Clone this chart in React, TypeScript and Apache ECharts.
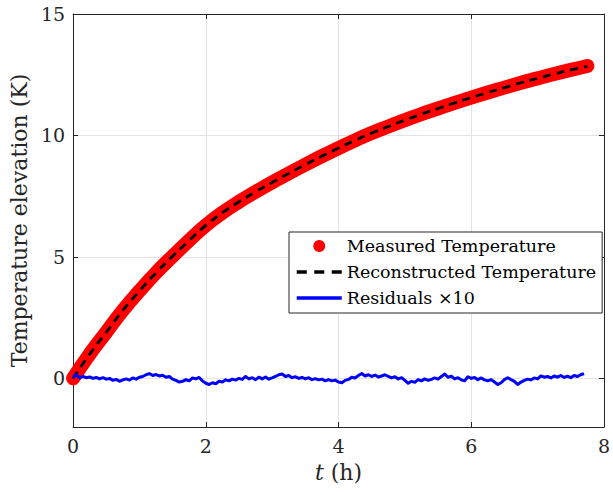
import React, { useEffect, useRef } from "react";
import * as echarts from "echarts";

const measuredTimeStep = 0.25;
const measuredValues = [
  0, 1.0, 1.9, 2.8, 3.6, 4.35, 5.03, 5.68, 6.3, 6.82, 7.27, 7.68, 8.07, 8.44, 8.8, 9.15,
  9.48, 9.8, 10.1, 10.37, 10.63, 10.88, 11.11, 11.34, 11.56, 11.77, 11.97, 12.17, 12.35, 12.53, 12.7, 12.86,
];
const reconstructedValues = [
  0, 1.0, 1.9, 2.8, 3.6, 4.35, 5.03, 5.68, 6.3, 6.82, 7.27, 7.68, 8.07, 8.44, 8.8, 9.15,
  9.48, 9.8, 10.1, 10.37, 10.63, 10.88, 11.11, 11.34, 11.56, 11.77, 11.97, 12.17, 12.35, 12.53, 12.7, 12.84,
];
const residualTimeStep = 0.05;
const residualValues = [
  0.05, 0.15, 0.02, 0.08, 0.03, 0.06, 0.0, 0.04, -0.02, 0.03, -0.03, 0.0, -0.08, -0.04, -0.12, -0.06, -0.02, -0.07, 0.02, -0.03,
  0.05, 0.08, 0.15, 0.2, 0.12, 0.16, 0.1, 0.13, 0.05, 0.08, -0.03, -0.08, -0.15, -0.12, -0.05, -0.1, 0.02, -0.02, 0.04, -0.1,
  -0.2, -0.25, -0.18, -0.22, -0.12, -0.15, -0.06, -0.1, -0.03, -0.07, 0.0, -0.04, 0.08, -0.02, 0.03, -0.05, 0.05, -0.02, 0.06, -0.03,
  0.02, 0.08, 0.15, 0.18, 0.08, 0.12, 0.03, 0.07, 0.0, 0.04, -0.02, 0.03, -0.05, -0.01, -0.06, -0.03, -0.1, -0.05, -0.1, -0.07,
  -0.15, -0.18, -0.08, -0.04, 0.05, 0.02, 0.12, 0.2, 0.1, 0.15, 0.08, 0.14, 0.06, 0.1, 0.15, 0.08, 0.02, 0.07, -0.02, 0.03,
  -0.08, -0.2, -0.12, -0.16, -0.05, -0.1, -0.02, -0.08, -0.04, 0.02, -0.03, 0.08, 0.18, 0.05, 0.09, -0.02, 0.03, -0.06, -0.1, 0.07,
  0.0, 0.04, -0.05, 0.02, -0.06, -0.1, -0.05, -0.15, -0.25, -0.18, -0.05, 0.03, -0.05, -0.12, -0.25, -0.15, -0.08, -0.03, -0.06, 0.02,
  -0.02, 0.1, 0.05, 0.08, 0.02, 0.1, 0.05, 0.12, 0.04, 0.09, 0.03, 0.12, 0.08, 0.15, 0.2,
];
const seriesNames = ["Measured Temperature", "Reconstructed Temperature", "Residuals ×10"];
const xTicks = { min: 0, max: 8, interval: 2 };
const yRange = { min: -2, max: 15 };

const FONT = "DejaVu Serif";
const AXIS_COLOR = "#262626";

export default function App() {
  const ref = useRef<HTMLDivElement>(null);
  useEffect(() => {
    if (!ref.current) return;
    const chart = echarts.init(ref.current, undefined, { renderer: "svg" });
    const measured = measuredValues.map((v, i) => [+(i * measuredTimeStep).toFixed(3), v]);
    const reconstructed = reconstructedValues.map((v, i) => [+(i * measuredTimeStep).toFixed(3), v]);
    const residual = residualValues.map((v, i) => [+(i * residualTimeStep).toFixed(3), v]);

    const tickCommon = { show: true, inside: true, length: 5, lineStyle: { color: AXIS_COLOR } };
    chart.setOption({
      animation: false,
      backgroundColor: "#ffffff",
      textStyle: { fontFamily: FONT },
      grid: { left: 73, right: 5, top: 14, bottom: 68, show: false },
      legend: {
        orient: "vertical",
        left: 289,
        top: 232,
        padding: [5, 6, 6, 6],
        itemGap: 8,
        itemWidth: 45,
        itemHeight: 12,
        itemTextGap: 4,
        borderColor: "#262626",
        borderWidth: 1,
        backgroundColor: "#ffffff",
        textStyle: { fontFamily: FONT, fontSize: 17.5, color: "#000" },
        data: [
          { name: seriesNames[0], icon: "circle" },
          { name: seriesNames[1], itemStyle: { opacity: 0 }, lineStyle: { width: 3.5, type: [10, 7.5] } },
          { name: seriesNames[2], itemStyle: { opacity: 0 }, lineStyle: { width: 3.5 } },
        ],
      },
      xAxis: [
        {
          type: "value",
          min: xTicks.min,
          max: xTicks.max,
          interval: xTicks.interval,
          position: "bottom",
          axisLine: { show: true, onZero: false, lineStyle: { color: AXIS_COLOR, width: 1 } },
          axisTick: tickCommon,
          axisLabel: { fontFamily: FONT, fontSize: 19, color: AXIS_COLOR, margin: 9 },
          splitLine: { show: true, lineStyle: { color: "#e3e3e3", width: 1 } },
          name: "{i|t} (h)",
          nameLocation: "middle",
          nameGap: 34,
          nameTextStyle: {
            fontFamily: FONT,
            fontSize: 22,
            color: AXIS_COLOR,
            rich: { i: { fontFamily: FONT, fontSize: 22, fontStyle: "italic", color: AXIS_COLOR } },
          },
        },
        {
          type: "value",
          min: xTicks.min,
          max: xTicks.max,
          interval: xTicks.interval,
          position: "top",
          axisLine: { show: true, onZero: false, lineStyle: { color: AXIS_COLOR, width: 1 } },
          axisTick: tickCommon,
          axisLabel: { show: false },
          splitLine: { show: false },
        },
      ],
      yAxis: [
        {
          type: "value",
          min: yRange.min,
          max: yRange.max,
          splitNumber: 3,
          position: "left",
          axisLine: { show: true, onZero: false, lineStyle: { color: AXIS_COLOR, width: 1 } },
          axisTick: tickCommon,
          axisLabel: {
            fontFamily: FONT,
            fontSize: 19,
            color: AXIS_COLOR,
            margin: 8,
            formatter: (v: number) => (v < 0 ? "" : String(v)),
          },
          splitLine: { show: true, lineStyle: { color: "#e3e3e3", width: 1 } },
          name: "Temperature elevation (K)",
          nameLocation: "middle",
          nameGap: 38,
          nameTextStyle: { fontFamily: FONT, fontSize: 22, color: AXIS_COLOR },
        },
        {
          type: "value",
          min: yRange.min,
          max: yRange.max,
          splitNumber: 3,
          position: "right",
          axisLine: { show: true, onZero: false, lineStyle: { color: AXIS_COLOR, width: 1 } },
          axisTick: tickCommon,
          axisLabel: { show: false },
          splitLine: { show: false },
        },
      ],
      series: [
        {
          name: seriesNames[0],
          type: "line",
          xAxisIndex: 0,
          yAxisIndex: 0,
          data: measured,
          smooth: 0.5,
          symbol: "none",
          itemStyle: { color: "#ff0000" },
          lineStyle: { color: "#ff0000", width: 14, cap: "round", join: "round" },
          z: 2,
        },
        {
          name: seriesNames[1],
          type: "line",
          xAxisIndex: 0,
          yAxisIndex: 0,
          data: reconstructed,
          smooth: 0.5,
          symbol: "none",
          itemStyle: { color: "#000000" },
          lineStyle: { color: "#000000", width: 2.8, type: [8, 6] },
          z: 3,
        },
        {
          name: seriesNames[2],
          type: "line",
          xAxisIndex: 0,
          yAxisIndex: 0,
          data: residual,
          symbol: "none",
          itemStyle: { color: "#0000ff" },
          lineStyle: { color: "#0000ff", width: 3, join: "round" },
          z: 4,
        },
      ],
    });
    return () => chart.dispose();
  }, []);
  return <div ref={ref} style={{ width: 613, height: 495, position: "absolute", left: 0, top: 0 }} />;
}
